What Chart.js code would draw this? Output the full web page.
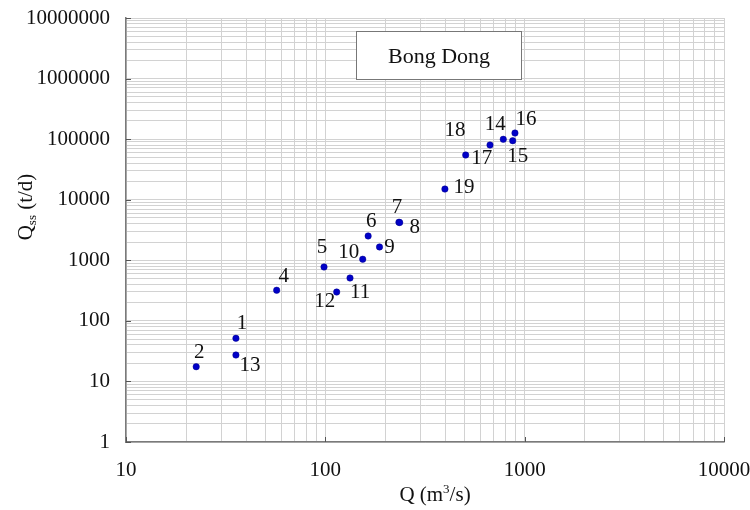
<!DOCTYPE html>
<html>
<head>
<meta charset="utf-8">
<script src="https://cdn.jsdelivr.net/npm/chart.js@4/dist/chart.umd.min.js"></script>
<style>
  body { margin: 0; background: #fff; }
  #wrap { width: 750px; height: 510px; }
</style>
</head>
<body>
<div id="wrap"><canvas id="mainChart" width="750" height="510"></canvas></div>
<script>
const pointIds = ['1', '2', '4', '5', '6', '7', '8', '9', '10', '11', '12', '13', '14', '15', '16', '17', '18', '19'];
const discharge = [35.6, 22.5, 57.0, 98.5, 164, 234, 236, 187, 154, 133, 114, 35.6, 781, 871, 894, 506, 670, 398];
const sediment = [51.5, 17.5, 320, 775, 2520, 4240, 4200, 1660, 1040, 510, 299, 27.3, 99400, 94300, 126000, 54700, 80000, 15000];

// Axis ranges and the labelled ticks
const xMin = 10, xMax = 10000;
const yMin = 1, yMax = 10000000;
const xTickLabels = [10, 100, 1000, 10000];
const yTickLabels = [1, 10, 100, 1000, 10000, 100000, 1000000, 10000000];

// Where each number sits relative to its point (px)
const labelOffsets = [[6, -15], [3, -14], [7, -14], [-2, -20], [3, -14], [-2, -15], [15, 5], [10, 1], [-14, -7],
    [10, 14], [-12, 9], [14, 10], [-8, -15], [5, 16], [11, -14], [16, 3], [-35, -15], [19, -2]];

const serif = '"Liberation Serif", "DejaVu Serif", serif';

// every 1..9 multiple inside a decade range
function logTicks(min, max) {
    const ticks = [];
    for (let p = Math.log10(min); p < Math.log10(max); p++) {
        for (let k = 1; k <= 9; k++) ticks.push({ value: k * Math.pow(10, p) });
    }
    ticks.push({ value: max });
    return ticks;
}

// Draw point numbers, title box, axis titles and inner tick marks
const decorations = {
    id: 'decorations',
    afterDatasetsDraw(chart) {
        const ctx = chart.ctx;
        const meta = chart.getDatasetMeta(0);
        ctx.save();
        ctx.fillStyle = '#111';
        ctx.font = '21px ' + serif;
        ctx.textAlign = 'center';
        ctx.textBaseline = 'middle';
        meta.data.forEach((pt, i) => {
            const off = labelOffsets[i];
            ctx.fillText(pointIds[i], pt.x + off[0], pt.y + off[1]);
        });
        ctx.restore();
    },
    afterDraw(chart) {
        const ctx = chart.ctx;
        const area = chart.chartArea;
        const xs = chart.scales.x, ys = chart.scales.y;

        ctx.save();
        // small inward tick marks at the decades
        ctx.strokeStyle = '#555';
        ctx.lineWidth = 1;
        xTickLabels.forEach(v => {
            const px = Math.round(xs.getPixelForValue(v)) + 0.5;
            ctx.beginPath();
            ctx.moveTo(px, area.bottom);
            ctx.lineTo(px, area.bottom - 5);
            ctx.stroke();
        });
        yTickLabels.forEach(v => {
            const py = Math.round(ys.getPixelForValue(v)) + 0.5;
            ctx.beginPath();
            ctx.moveTo(area.left, py);
            ctx.lineTo(area.left + 5, py);
            ctx.stroke();
        });

        // title box
        ctx.fillStyle = '#fff';
        ctx.fillRect(356, 31, 166, 49);
        ctx.strokeStyle = '#777';
        ctx.lineWidth = 1;
        ctx.strokeRect(356.5, 31.5, 165, 48);
        ctx.fillStyle = '#111';
        ctx.font = '22px ' + serif;
        ctx.textAlign = 'center';
        ctx.textBaseline = 'middle';
        ctx.fillText('Bong Dong', 439, 57);

        // x axis title: Q (m³/s)
        ctx.textAlign = 'left';
        ctx.textBaseline = 'alphabetic';
        ctx.font = '21px ' + serif;
        const a = 'Q (m', b = '3', c = '/s)';
        const wa = ctx.measureText(a).width;
        const wc = ctx.measureText(c).width;
        ctx.font = '13px ' + serif;
        const wb = ctx.measureText(b).width;
        let x0 = 435 - (wa + wb + wc) / 2;
        const base = 501;
        ctx.font = '21px ' + serif;
        ctx.fillText(a, x0, base);
        ctx.font = '13px ' + serif;
        ctx.fillText(b, x0 + wa, base - 8);
        ctx.font = '21px ' + serif;
        ctx.fillText(c, x0 + wa + wb, base);

        // y axis title: Q_ss (t/d)
        ctx.translate(32, 207);
        ctx.rotate(-Math.PI / 2);
        const q = 'Q', s = 'ss', t = ' (t/d)';
        ctx.font = '21px ' + serif;
        const wq = ctx.measureText(q).width;
        const wt = ctx.measureText(t).width;
        ctx.font = '13px ' + serif;
        const ws = ctx.measureText(s).width;
        x0 = -(wq + ws + wt) / 2;
        ctx.font = '21px ' + serif;
        ctx.fillText(q, x0, 0);
        ctx.font = '13px ' + serif;
        ctx.fillText(s, x0 + wq, 4);
        ctx.font = '21px ' + serif;
        ctx.fillText(t, x0 + wq + ws, 0);
        ctx.restore();
    }
};

function initializeChart() {
    const ctx = document.getElementById('mainChart');
    const points = discharge.map((q, i) => ({ x: q, y: sediment[i] }));

    new Chart(ctx, {
        type: 'scatter',
        data: {
            datasets: [{
                data: points,
                backgroundColor: '#0000c8',
                borderColor: '#00008a',
                borderWidth: 0.5,
                pointRadius: 3.2,
                pointHoverRadius: 3.2
            }]
        },
        options: {
            responsive: false,
            animation: false,
            devicePixelRatio: 1,
            layout: { padding: { left: 0, right: 26, top: 18, bottom: 0 } },
            plugins: {
                legend: { display: false },
                tooltip: { enabled: false }
            },
            scales: {
                x: {
                    type: 'logarithmic',
                    min: xMin,
                    max: xMax,
                    afterBuildTicks: s => { s.ticks = logTicks(xMin, xMax); },
                    afterFit: s => { s.height = 68; s.paddingLeft = 0; s.paddingRight = 0; },
                    ticks: {
                        autoSkip: false,
                        maxRotation: 0,
                        padding: 16,
                        color: '#111',
                        font: { family: serif, size: 21 },
                        callback: v => xTickLabels.includes(v) ? String(v) : ''
                    },
                    grid: { color: '#d2d2d2', lineWidth: 1, drawTicks: false },
                    border: { color: '#7a7a7a', width: 1.5 }
                },
                y: {
                    type: 'logarithmic',
                    min: yMin,
                    max: yMax,
                    afterBuildTicks: s => { s.ticks = logTicks(yMin, yMax); },
                    afterFit: s => { s.width = 126; s.paddingTop = 0; s.paddingBottom = 0; },
                    ticks: {
                        autoSkip: false,
                        padding: 16,
                        color: '#111',
                        font: { family: serif, size: 21 },
                        callback: v => yTickLabels.includes(v) ? String(v) : ''
                    },
                    grid: { color: '#d2d2d2', lineWidth: 1, drawTicks: false },
                    border: { color: '#7a7a7a', width: 1.5 }
                }
            }
        },
        plugins: [decorations]
    });
}

document.addEventListener('DOMContentLoaded', initializeChart);
</script>
</body>
</html>
